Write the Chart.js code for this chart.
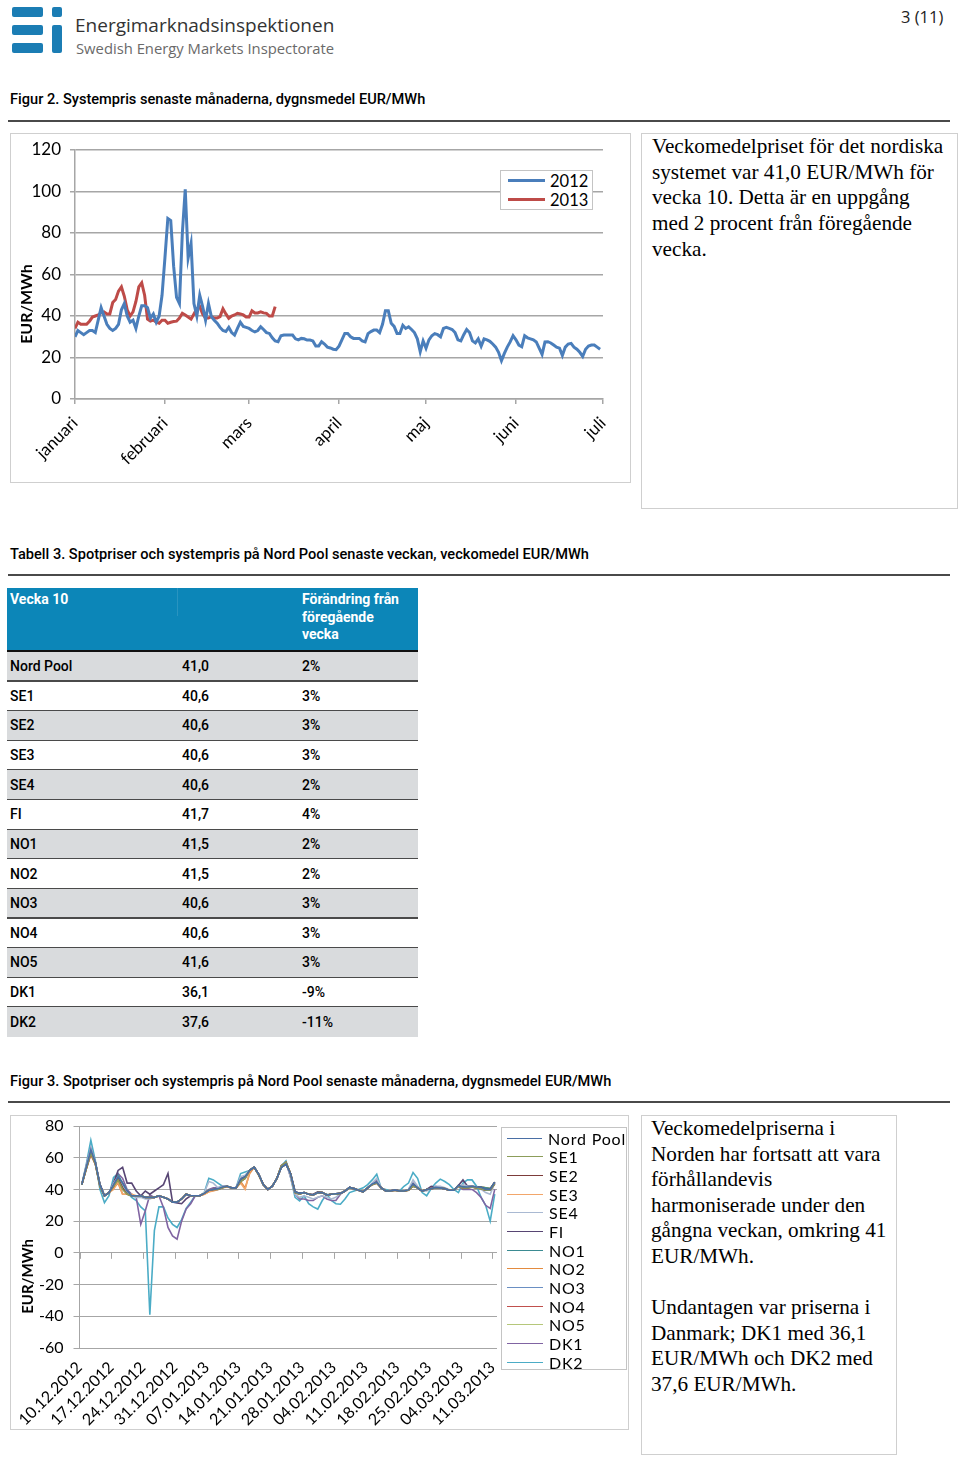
<!DOCTYPE html>
<html lang="sv">
<head>
<meta charset="utf-8">
<script src="https://cdn.jsdelivr.net/npm/chart.js"></script>
<style>
html,body{margin:0;padding:0;background:#fff;}
body{width:960px;height:1460px;position:relative;overflow:hidden;font-family:Roboto,"Liberation Sans",sans-serif;color:#000;}
.a{position:absolute;}
.logo{position:absolute;background:#1b7db4;border-radius:2px;}
.brand{font-family:"Open Sans",sans-serif;white-space:nowrap;}
.cap{font-family:Roboto,sans-serif;font-weight:500;font-size:14.6px;white-space:nowrap;}
.rule{position:absolute;left:8px;width:942px;height:2px;background:#4a4a4a;}
.box{position:absolute;border:1px solid #cfcfcf;box-sizing:border-box;background:#fff;}
.serif{font-family:"Liberation Serif",serif;font-size:21.2px;line-height:25.7px;color:#000;white-space:nowrap;}
.legend{position:absolute;border:1px solid #c4c4c4;box-sizing:border-box;background:#fff;font-family:Lato,sans-serif;color:#000;}
.lg-row{display:flex;align-items:center;white-space:nowrap;}
.lg-line{display:inline-block;border-top-style:solid;}
.trow{position:absolute;left:7px;width:411px;font-family:Roboto,sans-serif;font-weight:500;font-size:14px;}
.trow span{position:absolute;top:50%;transform:translateY(-50%);}
</style>
</head>
<body>
<!-- header -->
<div class="logo" style="left:12px;top:7px;width:31px;height:10px"></div>
<div class="logo" style="left:12px;top:25px;width:31px;height:10px"></div>
<div class="logo" style="left:12px;top:43px;width:31px;height:10px"></div>
<div class="logo" style="left:52px;top:7px;width:10px;height:10px"></div>
<div class="logo" style="left:52px;top:25px;width:10px;height:28px"></div>
<div class="a brand" style="left:75px;top:12px;font-size:19px;color:#333">Energimarknadsinspektionen</div>
<div class="a brand" style="left:76px;top:38px;font-size:14.8px;color:#6a6a6a">Swedish Energy Markets Inspectorate</div>
<div class="a" style="left:901px;top:5px;font-size:16.5px;font-family:'Open Sans',sans-serif;color:#222">3 (11)</div>

<div class="a cap" style="left:10px;top:90px">Figur 2. Systempris senaste månaderna, dygnsmedel EUR/MWh</div>
<div class="rule" style="top:120px"></div>

<div class="box" style="left:10px;top:133px;width:621px;height:350px"></div>
<div class="a" style="left:11px;top:134px;width:619px;height:348px"><canvas id="c1"></canvas></div>
<div class="legend" id="lg1" style="left:500px;top:170px;width:93px;height:40px;padding-left:7px"></div>

<div class="box" style="left:641px;top:133px;width:317px;height:376px"></div>
<div class="a serif" style="left:652px;top:134px">Veckomedelpriset för det nordiska<br>systemet var 41,0 EUR/MWh för<br>vecka 10. Detta är en uppgång<br>med 2 procent från föregående<br>vecka.</div>

<div class="a cap" style="left:10px;top:545px">Tabell 3. Spotpriser och systempris på Nord Pool senaste veckan, veckomedel EUR/MWh</div>
<div class="rule" style="top:574px"></div>

<div class="a" style="left:7px;top:588px;width:411px;height:62px;background:#0c86b8"></div>
<div class="a" style="left:177px;top:588px;width:1px;height:28px;background:rgba(255,255,255,0.12)"></div>
<div class="a" style="left:10px;top:591px;color:#fff;font-weight:700;font-size:14px;font-family:Roboto,sans-serif">Vecka 10</div>
<div class="a" style="left:302px;top:591px;color:#fff;font-weight:700;font-size:14px;line-height:17.5px;font-family:Roboto,sans-serif">Förändring från<br>föregående<br>vecka</div>
<div class="a" style="left:7px;top:650px;width:411px;height:2px;background:#111"></div>
<div id="tbody"></div>

<div class="a cap" style="left:10px;top:1072px">Figur 3. Spotpriser och systempris på Nord Pool senaste månaderna, dygnsmedel EUR/MWh</div>
<div class="rule" style="top:1101px"></div>

<div class="box" style="left:10px;top:1115px;width:619px;height:315px"></div>
<div class="a" style="left:11px;top:1116px;width:617px;height:313px"><canvas id="c2"></canvas></div>
<div class="legend" id="lg2" style="left:501px;top:1127px;width:126px;height:243px;padding-left:5px;padding-top:1px"></div>

<div class="box" style="left:641px;top:1115px;width:256px;height:340px"></div>
<div class="a serif" style="left:651px;top:1116px;line-height:25.6px">Veckomedelpriserna i<br>Norden har fortsatt att vara<br>förhållandevis<br>harmoniserade under den<br>gångna veckan, omkring 41<br>EUR/MWh.<br><br>Undantagen var priserna i<br>Danmark; DK1 med 36,1<br>EUR/MWh och DK2 med<br>37,6 EUR/MWh.</div>

<script>
// ---------- Figure 2 data (daily system price, day index from 1 Jan) ----------
const monthLabels = ['januari','februari','mars','april','maj','juni','juli'];
const monthStartDays = [0,31,60,91,121,152,182];
const prices2012 = [
 30,33,32,31,32,33,33,32,38,44,
 40,36,34,33,34,36,43,46,40,37,
 38,34,40,45,45,44,39,41,37,40,
 50,68,87,86,64,49,46,80,101,68,
 75,46,40,50,44.5,38,46,39.7,38,36.5,
 34.5,33,32.5,34.5,32,30.8,34,37,35,34.5,
 34,33,32.4,33,34.8,33.5,32,31.6,29.5,28,
 27.6,30.5,30.8,30.8,30.8,30.8,29,28.5,29.2,29,
 28.4,28.4,28,25.5,25.5,27.6,26.5,25,24.6,24,
 23.8,25.5,28.5,31.6,31.6,30,29.2,29.2,29.2,28,
 27.5,31.5,32.5,33.2,33.2,32,36,42.5,42.5,36.5,
 35,31.6,31.6,35.5,34,34.8,33.5,32,29,22.8,
 28,24.5,28.5,30.5,31.5,31,30,34,34.5,34,
 33.5,32,28.5,28,31,33.5,32,28,27,29,
 25.5,29,28.5,27.8,26.5,25,22.5,18.5,22,25,
 27.5,30.5,28.5,26,25.2,30.5,29.5,29,28.5,27.5,
 24.5,21.5,27.5,27.6,27,26,25,24.5,21,25,
 26.5,26.8,25,24,22.5,20.5,24,25.5,26,26,
 25,24
];
const prices2013 = [
 34,37,36,36,36,37.5,39.5,40,40.5,41.5,
 42,41,41,46.5,48,52,54,49.5,43,40,
 42,47,54,56,50,38.5,37.5,38,37,36.5,
 38,38,36.5,37,37.3,37.5,39,41.3,40.5,39.5,
 38.5,41,43.5,44.5,41,39,39,39.7,39,39,
 39.7,43.5,41,38.9,40,40.5,41.3,41,40.5,39.5,
 39.5,42.5,41.5,41.5,42,41.5,41.3,40,40,44.5
];
const yearLabels = ['2012','2013'];
const yearColors = ['#4a7ebb','#be4b48'];

// ---------- Table 3 data ----------
const tableAreas = ['Nord Pool','SE1','SE2','SE3','SE4','FI','NO1','NO2','NO3','NO4','NO5','DK1','DK2'];
const tableWeekAvg = ['41,0','40,6','40,6','40,6','40,6','41,7','41,5','41,5','40,6','40,6','41,6','36,1','37,6'];
const tableChange = ['2%','3%','3%','3%','2%','4%','2%','2%','3%','3%','3%','-9%','-11%'];

// ---------- Figure 3 data (daily prices from 10.12.2012, day index) ----------
const weekLabels = ['10.12.2012','17.12.2012','24.12.2012','31.12.2012','07.01.2013','14.01.2013','21.01.2013','28.01.2013','04.02.2013','11.02.2013','18.02.2013','25.02.2013','04.03.2013','11.03.2013'];
const areaNames = ['Nord Pool','SE1','SE2','SE3','SE4','FI','NO1','NO2','NO3','NO4','NO5','DK1','DK2'];
const areaColors = ['#4a6fa5','#8c9d5a','#7d3c3a','#f2a66a','#a9b9d2','#574573','#3b8b92','#e38b3f','#6a8fc3','#c0504d','#b5c77a','#8064a2','#4bacc6'];
const npPrices = [
 43,54,65,57,43,36,38,43,48,44, 39,36,36,36,35,35,35,36,35,34,
 32,32,34,37,36,36,36,37.5,39.5,40, 40.5,41.5,42,41,41,46.5,48,52,54,49.5,
 43,40,42,47,54,56,50,38.5,37.5,38, 37,36.5,38,38,36.5,37,37.3,37.5,39,41.3,
 40.5,39.5,38.5,41,43.5,44.5,41,39,39,39.7, 39,39,39.7,43.5,41,38.9,40,40.5,41.3,41,
 40.5,39.5,39.5,42.5,41.5,41.5,42,41.5,41.3,40, 40,44.5];
const se1Prices = [
 43,53,63,56,42,36,38,42,46,40, 37,36,36,36,35,35,35,36,35,34,
 32,32,34,37,36,36,36,37.5,39.5,40, 40,41,42,41,41,45,47,52,54,49,
 43,40,42,47,55,57,50,38,37,38, 37,36.5,38,38,36.5,37,37,37.5,39,41,
 40.5,39.5,38.5,41,43,44,41,39,39,39.5, 39,39,39.5,42,41,39,40,40.5,41,41,
 40.5,39.5,39.5,42,41,41,41.5,41,40.5,39.5, 39.5,43.5];
const se2Prices = [
 43,53,63,56,42,36,38,42,47,41, 37,36,36,36,35,35,35,36,35,34,
 32,32,34,37,36,36,36,37.5,39.5,40, 40,41,42,41,41,45,47,52,54,49,
 43,40,42,47,55,57,50,38,37,38, 37,36.5,38,38,36.5,37,37,37.5,39,41,
 40.5,39.5,38.5,41,43,44,41,39,39,39.5, 39,39,39.5,42,41,39,40,40.5,41,41,
 40.5,39.5,39.5,42,41,41,41.5,41,40.5,39.5, 39.5,43.5];
const se3Prices = [
 43,53,62,56,42,36,38,40,45,37, 37,37,36,36,35,35,35,36,35,34,
 32,32,34,37,36,36,36,37,38.5,39, 40,41,41.5,41,41,44,40,51,54,49,
 43,40,42,47,55,57,50,38,37,38, 37,36.5,38,38,36.5,37,37,37.5,39,41,
 40.5,39.5,38.5,41,43,44,41,39,39,39.5, 39,39,39.5,42,41,39,40,40.5,41,41,
 40.5,39.5,39.5,42,41,41,41.5,41,40.5,39.5, 39.5,43.5];
const se4Prices = [
 43,55,66,57,42,36,38,44,48,42, 38,36,35,35,34,34,35,36,35,34,
 32,32,34,37,36,36,36,38,45,44, 41,42,42,41,41,48,49,52,54,49,
 43,40,42,47,55,57,48,37,35,36, 35,34,35,36,35,34,35,37.5,39,41,
 40.5,39.5,38.5,41,44,47,41,39,39,39.5, 39,39,40,46,42,39,39,40.5,42,42,
 41,40,39.5,42,43,42,42,41.5,40,38, 37,44];
const fiPrices = [
 43,54,65,57,43,36,38,44,52,54, 44,44,39,36,39,37,39,41,43,50,
 32,31.5,31,34,36,36,36,37.5,39.5,40, 40.5,41.5,42,41,41,46.5,48,52,54,49.5,
 43,40,42,47,55,57,50,38.5,37.5,38, 37,37,38.5,38,36.5,37,37.3,37.5,39,41.3,
 40.5,39.5,38.5,41,43.5,44.5,41,39,39,39.7, 39,39,39.7,43.5,41,38.9,40,42,41.3,41,
 40.5,39.5,39.5,42.5,46,42,42,41.5,41.3,40, 40,44.5];
const no1Prices = [
 43,54,64,57,43,36,38,44,49,44, 39,36,36,36,35,35,35,36,35,34,
 32,32,34,37,36,36,36,37.5,39.5,40, 40.5,41.5,42,41,41,46.5,48,52,54,49.5,
 43,40,42,47,54,56,50,38.5,37.5,38, 37,36.5,38,38,36.5,37,37.3,37.5,39,41.3,
 40.5,39.5,38.5,41,43.5,44.5,41,39,39,39.7, 39,39,39.7,43.5,41,38.9,40,40.5,41.3,41,
 40.5,39.5,39.5,42.5,42,42,42,41.5,41.5,41, 40.5,44.5];
const no2Prices = [
 43,54,63,57,43,36,38,41,44,37, 37,36,36,36,35,35,35,36,35,34,
 32,32,34,37,36,36,36,37,38.5,39.5, 40.5,41.5,42,41,41,45,41,50,54,49.5,
 43,40,42,47,54,56,50,38.5,37.5,38, 37,36.5,38,38,36.5,37,37.3,37.5,39,41.3,
 40.5,39.5,38.5,41,43.5,44.5,41,39,39,39.7, 39,39,39.7,43.5,41,38.9,40,40.5,41.3,41,
 40.5,39.5,39.5,42.5,42,42,42,41.5,41.5,41, 40.5,44.5];
const no3Prices = [
 43,54,65,57,43,36,38,43,48,44, 39,36,36,36,35,35,35,36,35,34,
 32,32,34,37,36,36,36,37.5,39.5,40, 40.5,41.5,42,41,41,46.5,48,52,54,49.5,
 43,40,42,47,54,56,50,38.5,37.5,38, 37,36.5,38,38,36.5,37,37.3,37.5,39,41.3,
 40.5,39.5,38.5,41,43.5,44.5,41,39,39,39.7, 39,39,39.7,43.5,41,38.9,40,40.5,41.3,41,
 40.5,39.5,39.5,42.5,41,41,41.5,41,40.5,39.5, 39.5,44];
const no4Prices = [
 43,53,62,56,43,36,38,43,47,43, 39,36,36,36,35,35,35,36,35,34,
 32,32,34,37,36,36,36,37.5,39.5,40, 40.5,41.5,42,41,41,46.5,48,52,54,49.5,
 43,40,42,47,54,56,50,38.5,37.5,38, 37,36.5,38,38,36.5,37,37.3,37.5,39,41.3,
 40.5,39.5,38.5,41,43.5,44.5,41,39,39,39.7, 39,39,39.7,43.5,41,38.9,40,40.5,41.3,41,
 40.5,39.5,39.5,42.5,41,41,41.5,41,40.5,39.5, 39.5,44];
const no5Prices = [
 43,54,65,57,43,36,38,43,48,44, 39,36,36,36,35,35,35,36,35,34,
 32,32,34,37,36,36,36,37.5,39.5,40, 40.5,41.5,42,41,41,46.5,48,52,54,49.5,
 43,40,42,47,54,56,50,38.5,37.5,38, 37,36.5,38,38,36.5,37,37.3,37.5,39,41.3,
 40.5,39.5,38.5,41,43.5,44.5,41,39,39,39.7, 39,39,39.7,43.5,41,38.9,40,40.5,41.3,41,
 40.5,39.5,39.5,42.5,42,42,42,41.5,41.5,41, 40.5,44.5];
const dk1Prices = [
 43,55,66,57,43,36,38,44,50,47, 40,37,35,18,26.5,36.5,35,36,28.6,16,
 10.7,8.6,20,27.6,31,36,36,37.5,40,41, 41,42,42,41,41,46.5,48,52,54,49.5,
 43,40,42,47,55,57,48,37,34,34, 33,33,35,36,34,33,33,37,39,41,
 40.5,39.5,38.5,41,43.5,46,41,39,39,39.7, 39,39,40,44,41,39,40,40.5,42,41,
 40.5,39.5,39.5,42,40,40,40,38,35,30, 28,40];
const dk2Prices = [
 43,56,71,58,40,31.7,36,47.5,50,42, 38,35,33,29,26.5,-39,14,29,29,22,
 18,16,21,28,32,36,36,38,47,46, 44,42,42,41,41,50,51,52,54,49.5,
 43,40,42,47,55,58,48,35,32.8,36, 31,29,27.6,33,37,33,31,30.7,34,38,
 39,40,41,43,46,49.6,40.6,40,39,39.7, 39,42,44,50.7,47,38,36,40.6,44,46.5,
 45,43,40,38,44,46,46,42,35,30, 20,37];
const areaSeries = [npPrices,se1Prices,se2Prices,se3Prices,se4Prices,fiPrices,no1Prices,no2Prices,no3Prices,no4Prices,no5Prices,dk1Prices,dk2Prices];

// ---------- table ----------
(function(){
  const tb = document.getElementById('tbody');
  const rowH = 29.62;
  tableAreas.forEach((name,i)=>{
    const r = document.createElement('div');
    r.className = 'trow';
    r.style.top = (652 + i*rowH) + 'px';
    r.style.height = (rowH - (i < tableAreas.length-1 ? 1.2 : 0)) + 'px';
    r.style.background = i % 2 === 0 ? '#d9dbdd' : '#ffffff';
    r.innerHTML = '<span style="left:3px">'+name+'</span><span style="left:175px">'+tableWeekAvg[i]+'</span><span style="left:295px">'+tableChange[i]+'</span>';
    tb.appendChild(r);
    if (i < tableAreas.length-1) {
      const l = document.createElement('div');
      l.className = 'a';
      l.style.cssText = 'left:7px;width:411px;height:1.2px;background:#4a4a4a;top:'+(652 + (i+1)*rowH - 1.2)+'px';
      tb.appendChild(l);
    }
  });
})();

// ---------- plugins ----------
const yTitlePlugin = {
  id: 'yTitle',
  afterDraw(chart, args, opts) {
    const ctx = chart.ctx;
    ctx.save();
    ctx.font = 'bold ' + opts.size + 'px Lato, sans-serif';
    ctx.fillStyle = '#000';
    ctx.textAlign = 'center';
    ctx.textBaseline = 'middle';
    ctx.translate(opts.x, chart.height/2 + opts.dy);
    ctx.rotate(-Math.PI/2);
    ctx.fillText(opts.text, 0, 0);
    ctx.restore();
  }
};
const zeroTicksPlugin = {
  id: 'zeroTicks',
  afterDatasetsDraw(chart, args, opts) {
    if (!opts.enabled) return;
    const {ctx, scales:{x, y}} = chart;
    const y0 = y.getPixelForValue(0);
    ctx.save();
    ctx.strokeStyle = opts.color;
    ctx.lineWidth = 1;
    x.ticks.forEach(t => {
      const px = Math.round(x.getPixelForValue(t.value)) + 0.5;
      ctx.beginPath(); ctx.moveTo(px, y0); ctx.lineTo(px, y0 + opts.length); ctx.stroke();
    });
    ctx.restore();
  }
};

function buildLegend(chart, id, lineW, lineH, rowH, fontSize, gap, spacing) {
  const el = document.getElementById(id);
  chart.data.datasets.forEach(ds => {
    const row = document.createElement('div');
    row.className = 'lg-row';
    row.style.height = rowH + 'px';
    row.style.fontSize = fontSize + 'px';
    row.style.letterSpacing = spacing + 'px';
    const ln = document.createElement('span');
    ln.className = 'lg-line';
    ln.style.width = lineW + 'px';
    ln.style.borderTopWidth = lineH + 'px';
    ln.style.borderTopColor = ds.borderColor;
    ln.style.marginRight = gap + 'px';
    row.appendChild(ln);
    row.appendChild(document.createTextNode(ds.label));
    el.appendChild(row);
  });
}

function fixYPad(s, w) { s.width = w; s.paddingTop = 0; s.paddingBottom = 0; }
function fixXPad(s, h) { s.height = h; s.paddingLeft = 0; s.paddingRight = 0; }

Chart.defaults.font.family = 'Lato, sans-serif';
Chart.defaults.color = '#000';
Chart.defaults.animation = false;

// ---------- Figure 2 chart ----------
const chart1 = new Chart(document.getElementById('c1'), {
  type: 'line',
  data: {
    datasets: [prices2012, prices2013].map((vals, k) => ({
      label: yearLabels[k],
      data: vals.map((v, i) => ({x: i, y: v})),
      borderColor: yearColors[k],
      backgroundColor: yearColors[k],
      borderWidth: 3,
      pointRadius: 0,
      tension: 0,
      fill: false
    }))
  },
  options: {
    responsive: true,
    maintainAspectRatio: false,
    layout: {padding: {top: 16, right: 27, left: 0, bottom: 0}},
    plugins: {
      legend: {display: false},
      tooltip: {enabled: false},
      yTitle: {text: 'EUR/MWh', x: 16, dy: -4, size: 16}
    },
    scales: {
      x: {
        type: 'linear', min: 0, max: 182,
        afterBuildTicks: s => { s.ticks = monthStartDays.map(v => ({value: v})); },
        afterFit: s => fixXPad(s, 83),
        ticks: {
          autoSkip: false, maxRotation: 45, minRotation: 45, padding: 9,
          font: {size: 17},
          callback: v => monthLabels[monthStartDays.indexOf(v)]
        },
        grid: {drawOnChartArea: false, drawTicks: true, tickLength: 5, color: '#a6a6a6', lineWidth: 1.5},
        border: {color: '#a6a6a6', width: 1.5}
      },
      y: {
        min: 0, max: 120,
        afterFit: s => fixYPad(s, 64),
        ticks: {stepSize: 20, padding: 9, font: {size: 17}},
        grid: {color: '#a6a6a6', lineWidth: 1.5, tickLength: 5},
        border: {color: '#a6a6a6', width: 1.5}
      }
    }
  },
  plugins: [yTitlePlugin]
});
buildLegend(chart1, 'lg1', 37, 3, 19, 16.5, 5, 0);

// ---------- Figure 3 chart ----------
const chart2 = new Chart(document.getElementById('c2'), {
  type: 'line',
  data: {
    datasets: areaNames.map((name, k) => ({
      label: name,
      data: areaSeries[k].map((v, i) => ({x: i, y: v})),
      borderColor: areaColors[k],
      backgroundColor: areaColors[k],
      borderWidth: 1.6,
      pointRadius: 0,
      tension: 0,
      fill: false
    }))
  },
  options: {
    responsive: true,
    maintainAspectRatio: false,
    layout: {padding: {top: 10, right: 131, left: 0, bottom: 0}},
    plugins: {
      legend: {display: false},
      tooltip: {enabled: false},
      yTitle: {text: 'EUR/MWh', x: 17, dy: 4, size: 15},
      zeroTicks: {enabled: true, color: '#a6a6a6', length: 6}
    },
    scales: {
      x: {
        type: 'linear', min: -0.5, max: 91.5,
        afterBuildTicks: s => { s.ticks = weekLabels.map((w, k) => ({value: k*7 - 0.5})); },
        afterFit: s => fixXPad(s, 81),
        ticks: {
          autoSkip: false, maxRotation: 45, minRotation: 45, padding: 2,
          font: {size: 16},
          callback: v => weekLabels[Math.round((v + 0.5)/7)]
        },
        grid: {display: false},
        border: {display: false}
      },
      y: {
        min: -60, max: 80,
        afterFit: s => fixYPad(s, 68.5),
        ticks: {stepSize: 20, padding: 10, font: {size: 16}},
        grid: {color: '#a6a6a6', lineWidth: 1, tickLength: 6},
        border: {color: '#a6a6a6', width: 1}
      }
    }
  },
  plugins: [yTitlePlugin, zeroTicksPlugin]
});
buildLegend(chart2, 'lg2', 36, 1.6, 18.67, 16, 6, 0.8);
</script>
</body>
</html>
